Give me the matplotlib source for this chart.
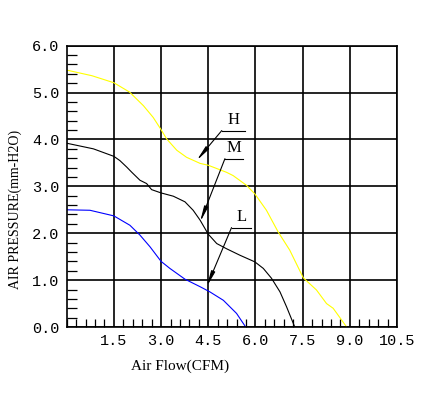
import matplotlib
matplotlib.use("Agg")
import matplotlib.pyplot as plt
from matplotlib.ticker import MultipleLocator

# curve H (yellow)
h_flow = [0.0, 0.8, 1.5, 2.0, 2.44, 2.75, 3.0, 3.18, 3.5, 3.81, 4.24, 4.5, 5.08,
          5.29, 5.72, 5.98, 6.35, 6.72, 7.09, 7.52, 7.94, 8.26, 8.47, 8.9]
h_pres = [5.48, 5.36, 5.21, 5.01, 4.72, 4.47, 4.21, 4.01, 3.77, 3.62, 3.49, 3.45, 3.30,
          3.23, 3.02, 2.84, 2.49, 2.03, 1.64, 1.05, 0.79, 0.5, 0.40, 0.0]

# curve M (black)
m_flow = [0.0, 0.85, 1.5, 1.69, 1.91, 2.07, 2.33, 2.54, 2.70, 3.0, 3.39, 3.76, 4.02,
          4.24, 4.5, 4.77, 5.08, 5.51, 5.98, 6.25, 6.51, 6.78, 6.99, 7.25]
m_pres = [3.92, 3.80, 3.64, 3.55, 3.41, 3.30, 3.13, 3.06, 2.93, 2.86, 2.79, 2.67, 2.49,
          2.28, 1.98, 1.78, 1.67, 1.53, 1.39, 1.25, 1.04, 0.75, 0.43, 0.0]

# curve L (blue)
l_flow = [0.0, 0.74, 1.5, 2.01, 2.33, 2.65, 3.0, 3.28, 3.76, 4.24, 4.55, 4.98, 5.40, 5.69]
l_pres = [2.50, 2.49, 2.37, 2.17, 1.96, 1.71, 1.40, 1.25, 1.02, 0.86, 0.75, 0.57, 0.29, 0.0]

x_ticks = [1.5, 3.0, 4.5, 6.0, 7.5, 9.0, 10.5]
x_labels = ["1.5", "3.0", "4.5", "6.0", "7.5", "9.0", "10.5"]
y_ticks = [0, 1, 2, 3, 4, 5, 6]
y_labels = ["0.0", "1.0", "2.0", "3.0", "4.0", "5.0", "6.0"]

# label text, arrow tip, elbow, end of underline
labels = ["H", "M", "L"]
tips = [(4.13, 3.55), (4.24, 2.24), (4.45, 0.86)]
elbows = [(4.93, 4.19), (5.03, 3.59), (5.24, 2.12)]
ends = [5.67, 5.61, 5.85]

font = "Liberation Mono"

fig = plt.figure(figsize=(4.21, 3.96), dpi=100)
ax = fig.add_axes([0.1584, 0.1742, 0.7846, 0.7104])

ax.plot(h_flow, h_pres, color="#ffff00", lw=0.8)
ax.plot(m_flow, m_pres, color="black", lw=0.8)
ax.plot(l_flow, l_pres, color="#0000ff", lw=0.8)

for lab, tip, elb, end in zip(labels, tips, elbows, ends):
    ax.plot([elb[0], end], [elb[1], elb[1]], color="black", lw=0.8)
    ax.annotate("", xy=tip, xytext=elb,
                arrowprops=dict(arrowstyle="-|>,head_length=0.9,head_width=0.12",
                                color="black", lw=0.8, shrinkA=0, shrinkB=0))
    ax.text((elb[0] + end) / 2, elb[1] + 0.06, lab, ha="center", va="bottom",
            family="Liberation Serif", fontsize=12)

ax.set_xlim(0, 10.5)
ax.set_ylim(0, 6)
ax.set_xticks(x_ticks)
ax.set_xticklabels(x_labels, family=font, fontsize=11)
ax.set_yticks(y_ticks)
ax.set_yticklabels(y_labels, family=font, fontsize=11)
ax.xaxis.set_minor_locator(MultipleLocator(0.3))
ax.yaxis.set_minor_locator(MultipleLocator(0.2))
ax.tick_params(which="major", length=0, pad=5)
ax.tick_params(which="minor", direction="in", width=0.9)
ax.tick_params(axis="x", which="minor", length=6)
ax.tick_params(axis="y", which="minor", length=7)
ax.grid(True, which="major", color="black", lw=1.2)
for s in ax.spines.values():
    s.set_linewidth(1.2)

fig.text(0.428, 0.076, "Air Flow(CFM)", ha="center", va="center",
         family="Liberation Serif", fontsize=11)
fig.text(0.036, 0.472, "AIR PRESSURE(mm-H2O)", ha="center", va="center",
         rotation=90, family="Liberation Serif", fontsize=10)

fig.savefig("out.png", dpi=100)
